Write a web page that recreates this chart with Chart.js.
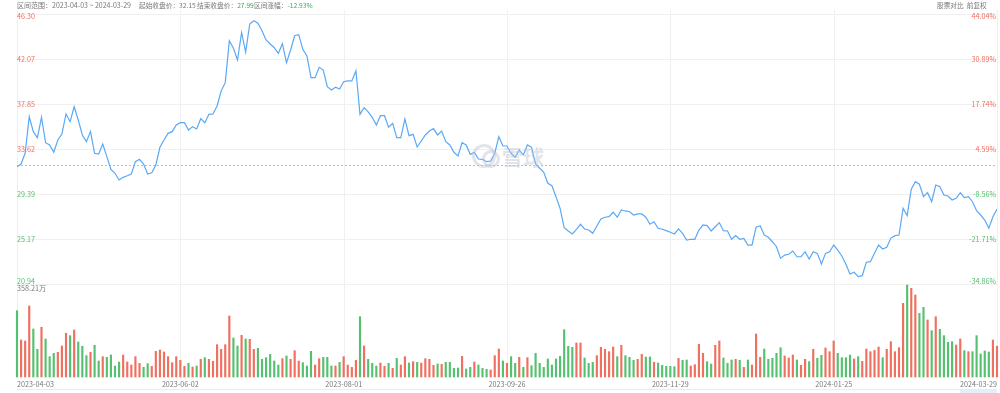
<!DOCTYPE html>
<html>
<head>
<meta charset="utf-8">
<script src="https://cdn.jsdelivr.net/npm/chart.js@4"></script>
<style>
  html, body { margin: 0; padding: 0; background: #fff; }
  #wrap { position: relative; width: 1000px; height: 393px; overflow: hidden; }
  #c { position: absolute; left: 0; top: 0; }
  .hd { position: absolute; top: 0; font: 6.7px "Noto Sans CJK SC", "Noto Sans", sans-serif; line-height: 11px; color: #777; white-space: nowrap; }
  .dn { color: #2fb45a; }
  .wm { position: absolute; left: 502px; top: 141px; font: bold 21px "Noto Sans CJK SC", sans-serif; color: rgba(190,195,210,0.45); }
  .logo { position: absolute; left: 472px; top: 144px; width: 18px; height: 18px; border: 3px solid rgba(190,195,210,0.45); border-radius: 50%; }
  .logo2 { position: absolute; left: 482px; top: 150px; width: 12px; height: 12px; border: 3px solid rgba(190,195,210,0.45); border-radius: 50%; }
</style>
</head>
<body>
<div id="wrap">
  <canvas id="c" width="1000" height="393"></canvas>
  <span class="hd" style="left:17px;font-size:7px">区间范围：2023-04-03 ~ 2024-03-29</span>
  <span class="hd" style="left:139px">起始收盘价：32.15</span>
  <span class="hd" style="left:197px">结束收盘价：<span class="dn">27.99</span></span>
  <span class="hd" style="left:254px">区间涨幅：<span class="dn">-12.93%</span></span>
  <span class="hd" style="left:937px">股票对比&nbsp;&nbsp;前复权</span>
  <div class="logo"></div><div class="logo2"></div>
  <span class="wm">雪球</span>
</div>
<script>
// closing prices, one per trading day
var prices = [
  31.96, 32.21, 33.24, 36.65, 35.25, 34.68, 36.60, 34.21, 34.00, 33.31,
  34.47, 35.03, 36.91, 36.18, 37.59, 36.34, 34.94, 34.31, 35.25, 33.22,
  33.15, 34.09, 32.90, 31.71, 31.34, 30.71, 30.96, 31.11, 31.27, 32.43,
  32.65, 32.21, 31.27, 31.39, 32.12, 33.78, 34.47, 35.09, 35.25, 35.87,
  36.09, 36.09, 35.40, 35.72, 35.50, 36.47, 36.09, 36.88, 36.91, 37.66,
  39.07, 39.85, 43.79, 43.08, 41.98, 44.54, 42.73, 45.36, 45.67, 45.43,
  44.73, 43.86, 43.48, 43.13, 42.61, 43.51, 41.73, 42.92, 44.26, 44.36,
  42.98, 42.36, 40.32, 40.32, 41.29, 41.04, 39.47, 39.16, 39.42, 39.26,
  39.94, 40.01, 40.01, 40.97, 36.88, 37.50, 37.10, 36.60, 35.87, 36.75,
  36.75, 35.66, 36.03, 34.68, 34.68, 36.44, 34.87, 35.00, 33.81, 34.37,
  34.94, 35.31, 35.53, 34.94, 35.31, 34.31, 34.00, 33.31, 32.96, 34.21,
  34.00, 33.12, 33.31, 32.68, 32.65, 32.43, 32.49, 33.22, 34.78, 33.90,
  33.90, 33.22, 32.84, 33.53, 33.06, 34.00, 33.78, 32.21, 31.81, 31.43,
  30.40, 30.17, 29.14, 28.05, 26.23, 25.92, 25.64, 26.08, 26.55, 26.11,
  26.01, 25.70, 26.39, 27.05, 27.21, 27.26, 27.68, 27.21, 27.89, 27.80,
  27.73, 27.42, 27.52, 27.52, 27.21, 26.55, 26.79, 26.17, 26.08, 25.95,
  25.80, 25.64, 26.11, 25.70, 25.07, 25.14, 25.14, 26.01, 26.48, 26.42,
  25.92, 26.32, 26.70, 25.95, 25.92, 25.14, 25.48, 25.14, 25.23, 24.60,
  24.60, 26.27, 26.42, 25.54, 25.33, 24.91, 24.44, 23.35, 23.66, 23.73,
  24.04, 23.50, 23.50, 23.97, 23.29, 23.97, 23.82, 22.82, 23.82, 23.97,
  24.60, 24.13, 23.57, 22.79, 21.88, 22.04, 21.63, 21.72, 22.98, 23.04,
  23.82, 24.60, 24.23, 24.39, 25.23, 25.48, 25.54, 28.05, 27.36, 29.84,
  30.55, 30.31, 29.14, 29.52, 28.67, 30.24, 30.08, 29.30, 29.21, 28.83,
  28.99, 29.52, 29.05, 29.14, 28.67, 27.83, 27.42, 26.95, 26.17, 27.26,
  27.99
];

// volume in 万股
var volumes = [
  258.3, 144.1, 140.2, 276.5, 186.9, 107.7, 193.4, 148.0, 79.2, 92.2,
  96.1, 120.7, 170.0, 161.0, 183.0, 136.3, 119.4, 83.1, 96.1, 123.3,
  62.3, 79.2, 76.6, 85.7, 42.8, 58.4, 85.7, 58.4, 46.7, 79.2,
  53.2, 37.6, 51.9, 41.5, 99.9, 105.1, 97.4, 79.2, 55.8, 79.2,
  64.9, 41.5, 53.2, 38.9, 42.8, 68.8, 75.3, 68.8, 61.0, 125.9,
  107.7, 125.9, 237.5, 151.9, 120.7, 162.3, 148.0, 146.7, 107.7, 111.6,
  68.8, 75.3, 88.3, 62.3, 46.7, 71.4, 81.8, 68.8, 102.5, 62.3,
  55.8, 42.8, 99.9, 46.7, 71.4, 76.6, 76.6, 42.8, 42.8, 57.1,
  79.2, 46.7, 37.6, 64.9, 234.9, 120.7, 68.8, 53.2, 42.8, 54.5,
  41.5, 53.2, 33.7, 72.7, 46.7, 79.2, 54.5, 59.7, 57.1, 54.5,
  71.4, 68.8, 45.4, 50.6, 49.3, 57.1, 57.1, 33.7, 35.0, 80.5,
  31.2, 37.6, 58.4, 46.7, 33.7, 29.9, 27.3, 83.1, 109.0, 62.3,
  53.2, 79.2, 53.2, 76.6, 37.6, 75.3, 44.1, 92.2, 53.2, 37.6,
  70.1, 46.7, 70.1, 80.5, 184.3, 119.4, 115.5, 132.4, 132.4, 74.0,
  53.2, 57.1, 83.1, 115.5, 107.7, 98.6, 116.8, 79.2, 123.3, 83.1,
  76.6, 64.9, 68.8, 88.3, 77.9, 77.9, 57.1, 54.5, 45.4, 41.5,
  41.5, 40.2, 72.7, 64.9, 66.2, 42.8, 48.0, 127.2, 92.2, 59.7,
  50.6, 123.3, 140.2, 74.0, 53.2, 66.2, 68.8, 64.9, 37.6, 66.2,
  46.7, 167.4, 76.6, 109.0, 68.8, 72.7, 92.2, 114.2, 81.8, 74.0,
  85.7, 66.2, 45.4, 68.8, 59.7, 107.7, 72.7, 84.4, 112.9, 98.6,
  140.2, 92.2, 75.3, 75.3, 85.7, 70.1, 79.2, 61.0, 109.0, 98.6,
  103.8, 116.8, 75.3, 107.7, 137.6, 98.6, 114.2, 286.9, 358.2, 345.3,
  319.3, 247.9, 271.3, 222.0, 180.4, 234.9, 185.6, 160.9, 135.0, 137.6,
  124.6, 148.0, 102.5, 98.6, 98.6, 160.9, 89.6, 101.2, 97.3, 144.1,
  120.0
];

var priceTicks = [46.30, 42.07, 37.85, 33.62, 29.39, 25.17, 20.94];
var pctTicks = ['44.04%', '30.89%', '17.74%', '4.59%', '-8.56%', '-21.71%', '-34.86%'];
var dateTickIdx = [0, 40, 80, 120, 160, 200, 240];
var dateTicks = ['2023-04-03', '2023-06-02', '2023-08-01', '2023-09-26', '2023-11-29', '2024-01-25', '2024-03-29'];
var startClose = 32.15;
var volMaxLabel = '358.21万';

var RED = '#f0705f', GREEN = '#55c06f';
var FONT = '7.2px "Noto Sans CJK SC", "Noto Sans", sans-serif';

var barColors = volumes.map(function (v, i) {
  var prev = i === 0 ? startClose : prices[i - 1];
  return prices[i] >= prev ? RED : GREEN;
});

var decor = {
  id: 'decor',
  beforeDatasetsDraw: function (chart) {
    var ctx = chart.ctx, a = chart.chartArea;
    var y = chart.scales.y, x = chart.scales.x;
    ctx.save();
    ctx.lineWidth = 1;
    ctx.strokeStyle = '#f0f0f0';
    priceTicks.forEach(function (t) {
      var py = Math.round(y.getPixelForValue(t)) + 0.5;
      ctx.beginPath(); ctx.moveTo(a.left, py); ctx.lineTo(a.right, py); ctx.stroke();
    });
    dateTickIdx.forEach(function (i) {
      var px = Math.round(x.getPixelForValue(i)) + 0.5;
      ctx.beginPath(); ctx.moveTo(px, a.top - 4); ctx.lineTo(px, a.bottom); ctx.stroke();
    });
    // start close reference
    var sy = Math.round(y.getPixelForValue(startClose)) + 0.5;
    ctx.strokeStyle = '#bdbdbd';
    ctx.setLineDash([2, 2]);
    ctx.beginPath(); ctx.moveTo(a.left, sy); ctx.lineTo(a.right, sy); ctx.stroke();
    ctx.setLineDash([]);
    // range strip at bottom
    ctx.strokeStyle = '#ececec';
    ctx.beginPath(); ctx.moveTo(a.left, 389.5); ctx.lineTo(a.right, 389.5); ctx.stroke();
    ctx.fillStyle = 'rgba(180,205,240,0.35)';
    ctx.fillRect(960, 390, a.right - 960, 3);
    ctx.restore();
  },
  afterDatasetsDraw: function (chart) {
    var ctx = chart.ctx, a = chart.chartArea;
    var y = chart.scales.y, x = chart.scales.x;
    ctx.save();
    ctx.font = FONT;
    priceTicks.forEach(function (t, k) {
      var py = y.getPixelForValue(t);
      if (k === 0) py += 2;
      if (k === priceTicks.length - 1) py -= 3;
      ctx.textBaseline = 'middle';
      ctx.fillStyle = t > startClose ? RED : GREEN;
      ctx.textAlign = 'left';
      ctx.fillText(t.toFixed(2), a.left, py);
      ctx.textAlign = 'right';
      ctx.fillText(pctTicks[k], a.right - 1, py);
    });
    ctx.fillStyle = '#777';
    ctx.textAlign = 'left';
    ctx.fillText(volMaxLabel, a.left, chart.scales.v.getPixelForValue(358.21) + 3);
    dateTickIdx.forEach(function (i, k) {
      var px = x.getPixelForValue(i);
      ctx.textAlign = k === 0 ? 'left' : (k === dateTickIdx.length - 1 ? 'right' : 'center');
      ctx.fillText(dateTicks[k], px, 384);
    });
    ctx.restore();
  }
};

new Chart(document.getElementById('c').getContext('2d'), {
  data: {
    datasets: [{
      type: 'line',
      data: prices.map(function (p, i) { return { x: i, y: p }; }),
      borderColor: '#5aa9f6',
      borderWidth: 1.2,
      pointRadius: 0,
      tension: 0,
      yAxisID: 'y'
    }, {
      type: 'bar',
      data: volumes.map(function (v, i) { return { x: i, y: v }; }),
      backgroundColor: barColors,
      barThickness: 1.5,
      clip: false,
      yAxisID: 'v'
    }]
  },
  options: {
    responsive: false,
    animation: false,
    devicePixelRatio: 1,
    layout: { padding: { left: 17, right: 3, top: 14, bottom: 16 } },
    scales: {
      x: { type: 'linear', min: 0, max: 240, offset: false, display: false },
      y: { min: 12.205, max: 46.30, display: false },
      v: { min: 0, max: 1413.4, display: false }
    },
    plugins: { legend: { display: false }, tooltip: { enabled: false } }
  },
  plugins: [decor]
});
</script>
</body>
</html>
